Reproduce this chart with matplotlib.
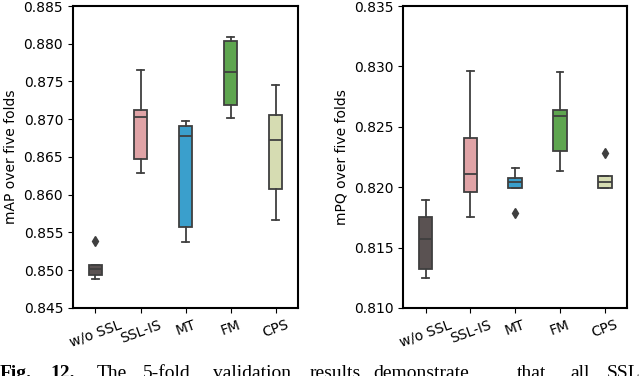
import matplotlib.pyplot as plt
import numpy as np

methods = ['w/o SSL', 'SSL-IS', 'MT', 'FM', 'CPS']
colors = ['#5a5252', '#e0a3a6', '#3a9fcc', '#5ea54f', '#d6dcb2']

# five folds per method
map_folds = [
    [0.8489, 0.8493, 0.8501, 0.8507, 0.8539],
    [0.8629, 0.8647, 0.8703, 0.8712, 0.8765],
    [0.8538, 0.8557, 0.8678, 0.8691, 0.8698],
    [0.8701, 0.8719, 0.8763, 0.8804, 0.8809],
    [0.8567, 0.8607, 0.8673, 0.8705, 0.8746],
]
mpq_folds = [
    [0.8125, 0.8132, 0.8157, 0.8175, 0.8189],
    [0.8175, 0.8196, 0.8211, 0.8241, 0.8296],
    [0.8179, 0.8199, 0.8204, 0.8208, 0.8216],
    [0.8213, 0.8230, 0.8259, 0.8264, 0.8295],
    [0.8199, 0.8199, 0.8204, 0.8209, 0.8228],
]

fig = plt.figure(figsize=(6.4, 3.76), dpi=100)
ax1 = fig.add_axes([0.114, 0.181, 0.352, 0.803])
ax2 = fig.add_axes([0.630, 0.181, 0.350, 0.803])

line_c = '#3f3f3f'


def draw(ax, data, ylim, yticks, ylabel):
    bp = ax.boxplot(data, positions=np.arange(len(data)), widths=0.3,
                    patch_artist=True,
                    medianprops=dict(color=line_c, linewidth=1.3),
                    whiskerprops=dict(color=line_c, linewidth=1.3),
                    capprops=dict(color=line_c, linewidth=1.3),
                    boxprops=dict(edgecolor=line_c, linewidth=1.3),
                    flierprops=dict(marker='d', markersize=5,
                                    markerfacecolor=line_c,
                                    markeredgecolor=line_c))
    for patch, c in zip(bp['boxes'], colors):
        patch.set_facecolor(c)
    ax.set_xlim(-0.5, len(data) - 0.5)
    ax.set_ylim(*ylim)
    ax.set_yticks(yticks)
    ax.set_yticklabels([f'{t:.3f}' for t in yticks], fontsize=10)
    ax.set_xticks(np.arange(len(data)))
    ax.set_xticklabels(methods, rotation=20, fontsize=10)
    ax.set_ylabel(ylabel, fontsize=10)
    for s in ax.spines.values():
        s.set_linewidth(1.5)
        s.set_color('black')


draw(ax1, map_folds, (0.845, 0.885), np.arange(0.845, 0.8851, 0.005),
     'mAP over five folds')
draw(ax2, mpq_folds, (0.810, 0.835), np.arange(0.810, 0.8351, 0.005),
     'mPQ over five folds')

# caption, cut off at the bottom edge like the source
words = ['Fig.', '12.', 'The', '5-fold', 'validation', 'results',
         'demonstrate', 'that', 'all', 'SSL.']
word_x = [0, 50, 97, 143, 213, 310, 373, 517, 570, 607]
for i, (w, x) in enumerate(zip(words, word_x)):
    fig.text(x / 640, -0.005, w, fontsize=14, family='Liberation Serif',
             weight='bold' if i < 2 else 'normal', va='baseline', ha='left')

fig.savefig('out.png', dpi=100)
